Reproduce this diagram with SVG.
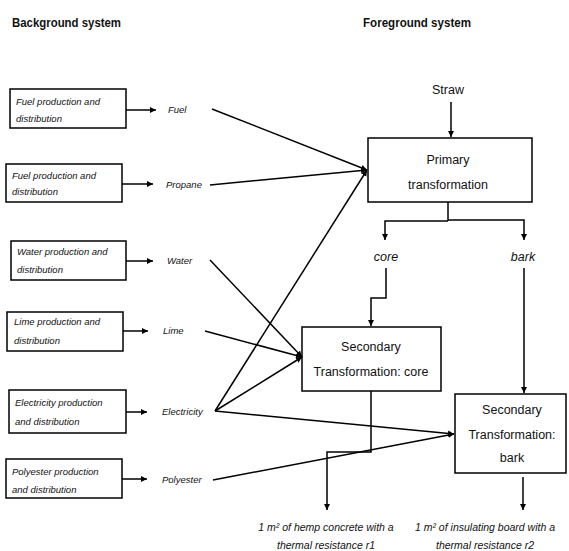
<svg xmlns="http://www.w3.org/2000/svg" width="569" height="551" viewBox="0 0 569 551">
<defs>
<marker id="ah" markerUnits="userSpaceOnUse" markerWidth="7" markerHeight="7" refX="6" refY="3" orient="auto">
<path d="M0,0 L6,3 L0,6 z" fill="#000"/>
</marker>
<style>
.box{fill:#fff;stroke:#000;stroke-width:1.5}
.c{fill:none;stroke:#000;stroke-width:1.5;marker-end:url(#ah)}
.l{fill:none;stroke:#000;stroke-width:1.5}
.t{font-family:"Liberation Sans",Arial,sans-serif;font-size:9.5px;font-style:italic;fill:#111}
.n{font-family:"Liberation Sans",Arial,sans-serif;font-size:12.5px;fill:#111;text-anchor:middle}
.h{font-family:"Liberation Sans",Arial,sans-serif;font-size:13.5px;font-weight:bold;fill:#111}
.o{font-family:"Liberation Sans",Arial,sans-serif;font-size:10.5px;font-style:italic;fill:#111;text-anchor:middle}
</style>
</defs>
<rect width="569" height="551" fill="#fff"/>
<text class="h" x="12" y="27" textLength="109" lengthAdjust="spacingAndGlyphs">Background system</text>
<text class="h" x="363" y="27" textLength="108" lengthAdjust="spacingAndGlyphs">Foreground system</text>

<g id="bg-fuel">
<rect class="box" x="10" y="89" width="116" height="39"/>
<text class="t" x="16" y="105">Fuel production and</text>
<text class="t" x="16" y="122">distribution</text>
</g>
<g id="bg-propane">
<rect class="box" x="6" y="164" width="116" height="38"/>
<text class="t" x="12" y="179">Fuel production and</text>
<text class="t" x="12" y="195">distribution</text>
</g>
<g id="bg-water">
<rect class="box" x="11" y="241" width="115" height="39"/>
<text class="t" x="17" y="255">Water production and</text>
<text class="t" x="17" y="273">distribution</text>
</g>
<g id="bg-lime">
<rect class="box" x="7" y="312" width="116" height="39"/>
<text class="t" x="14" y="325">Lime production and</text>
<text class="t" x="14" y="344">distribution</text>
</g>
<g id="bg-electricity">
<rect class="box" x="9" y="390" width="117" height="43"/>
<text class="t" x="15" y="406">Electricity production</text>
<text class="t" x="15" y="425">and distribution</text>
</g>
<g id="bg-polyester">
<rect class="box" x="6" y="459" width="116" height="39"/>
<text class="t" x="12" y="475">Polyester production</text>
<text class="t" x="12" y="493">and distribution</text>
</g>

<g id="lbl-fuel"><text class="t" x="168" y="113">Fuel</text></g>
<g id="lbl-propane"><text class="t" x="166" y="188">Propane</text></g>
<g id="lbl-water"><text class="t" x="167" y="264">Water</text></g>
<g id="lbl-lime"><text class="t" x="163" y="334">Lime</text></g>
<g id="lbl-electricity"><text class="t" x="162" y="415">Electricity</text></g>
<g id="lbl-polyester"><text class="t" x="162" y="483">Polyester</text></g>

<g id="straw"><text class="n" x="448" y="94">Straw</text></g>
<g id="primary">
<rect class="box" x="368" y="138" width="164" height="64"/>
<text class="n" x="448" y="164">Primary</text>
<text class="n" x="448" y="189">transformation</text>
</g>
<g id="lbl-core"><text class="n" x="386" y="261" font-style="italic">core</text></g>
<g id="lbl-bark"><text class="n" x="523" y="261" font-style="italic">bark</text></g>
<g id="secondary-core">
<rect class="box" x="302" y="327" width="139" height="64"/>
<text class="n" x="371" y="351">Secondary</text>
<text class="n" x="371" y="376">Transformation:  core</text>
</g>
<g id="secondary-bark">
<rect class="box" x="455" y="394" width="111" height="79"/>
<text class="n" x="512" y="414">Secondary</text>
<text class="n" x="512" y="439">Transformation:</text>
<text class="n" x="512" y="462">bark</text>
</g>
<g id="out-core">
<text class="o" x="326" y="531">1 m² of hemp concrete with a</text>
<text class="o" x="326" y="549">thermal resistance r1</text>
</g>
<g id="out-bark">
<text class="o" x="485" y="531">1 m² of insulating board with a</text>
<text class="o" x="485" y="549">thermal resistance r2</text>
</g>

<g id="connectors">
<path class="c" d="M126,110 H156"/>
<path class="c" d="M122,184 H153"/>
<path class="c" d="M126,261 H153"/>
<path class="c" d="M123,331 H148"/>
<path class="c" d="M126,412 H147"/>
<path class="c" d="M122,479 H147"/>
<path class="c" d="M212,109 L367,170"/>
<path class="c" d="M210,185 L367,170"/>
<path class="c" d="M215,411 L367,170"/>
<path class="c" d="M210,260 L302,357"/>
<path class="c" d="M205,331 L302,357"/>
<path class="c" d="M215,411 L302,357"/>
<path class="c" d="M215,411 L454,434"/>
<path class="c" d="M213,480 L454,434"/>
<path class="c" d="M451,102 V137"/>
<path class="l" d="M448,202 V221"/>
<path class="c" d="M448,221 H385 V240"/>
<path class="c" d="M448,220 H524 V240"/>
<path class="c" d="M386,268 V298 H371 V326"/>
<path class="c" d="M524,268 V393"/>
<path class="c" d="M371,391 V452 H327 V510"/>
<path class="c" d="M523,477 V510"/>
</g>
</svg>
